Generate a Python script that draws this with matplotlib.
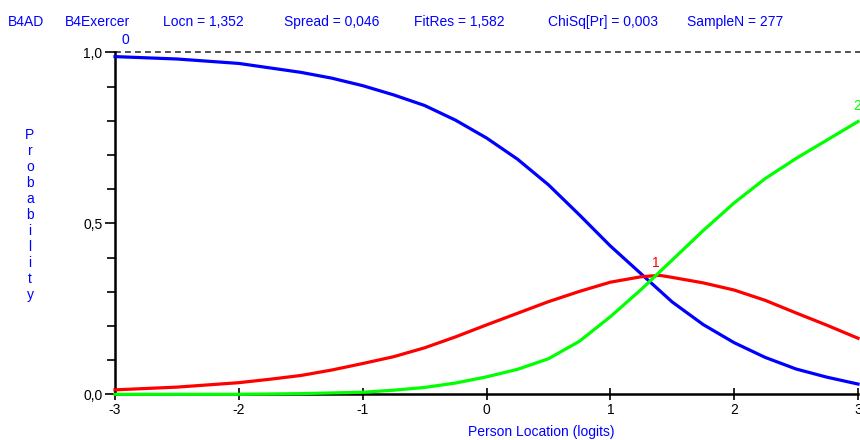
import matplotlib
matplotlib.use("Agg")
import matplotlib.pyplot as plt
from matplotlib.ticker import MultipleLocator

plt.rcParams['font.family'] = ['Liberation Sans', 'DejaVu Sans']

# ---- data ----
x_blue = [-3, -2.5, -2, -1.75, -1.5, -1.25, -1, -0.75, -0.5, -0.25, 0, 0.25, 0.5, 0.75,
          1.0, 1.25, 1.5, 1.75, 2.0, 2.25, 2.5, 2.75, 3.0]
p_cat0 = [0.988, 0.981, 0.968, 0.955, 0.942, 0.925, 0.903, 0.876, 0.845, 0.802, 0.750, 0.688,
          0.613, 0.525, 0.434, 0.352, 0.270, 0.204, 0.151, 0.108, 0.074, 0.050, 0.030]

x_red = [-3, -2.5, -2, -1.75, -1.5, -1.25, -1, -0.75, -0.5, -0.25, 0, 0.25, 0.5, 0.75,
         1.0, 1.25, 1.4, 1.5, 1.75, 2.0, 2.25, 2.5, 2.75, 3.0]
p_cat1 = [0.013, 0.021, 0.034, 0.044, 0.055, 0.071, 0.090, 0.110, 0.136, 0.168, 0.203, 0.237,
          0.271, 0.301, 0.328, 0.344, 0.348, 0.342, 0.326, 0.305, 0.275, 0.238, 0.202, 0.164]

x_green = [-3, -2, -1.5, -1, -0.75, -0.5, -0.25, 0, 0.25, 0.5, 0.75, 1.0, 1.25, 1.5, 1.75,
           2.0, 2.25, 2.5, 2.75, 3.0]
p_cat2 = [0.000, 0.000, 0.002, 0.006, 0.012, 0.020, 0.033, 0.051, 0.073, 0.104, 0.155, 0.227,
          0.307, 0.393, 0.479, 0.560, 0.631, 0.690, 0.744, 0.798]

curve_labels = ['0', '1', '2']
label_pos = [(-2.92, 1.016), (1.37, 0.364), (2.99, 0.823)]
colors = ['#0000FF', '#FF0000', '#00FF00']

header = [("B4AD", 8), ("B4Exercer", 65), ("Locn = 1,352", 163), ("Spread = 0,046", 284),
          ("FitRes = 1,582", 414), ("ChiSq[Pr] = 0,003", 548), ("SampleN = 277", 687)]

x_ticks = [-3, -2, -1, 0, 1, 2, 3]
y_ticks = [0.0, 0.5, 1.0]
y_tick_labels = ['0,0', '0,5', '1,0']

W, H = 860, 440
fig = plt.figure(figsize=(W / 100, H / 100), dpi=100)
ax_left, ax_right = 115, 858
ax_top, ax_bot = 52.5, 394.3
ax = fig.add_axes([ax_left / W, 1 - ax_bot / H, (ax_right - ax_left) / W, (ax_bot - ax_top) / H])

ax.set_xlim(-3, 3)
ax.set_ylim(0, 1)

ax.plot([-3, 3.2], [1, 1], color='#333333', lw=1.2, ls=(0, (3.5, 2.5)), clip_on=False, zorder=1)

for xs, ys, c in [(x_blue, p_cat0, colors[0]), (x_red, p_cat1, colors[1]), (x_green, p_cat2, colors[2])]:
    ax.plot(xs, ys, color=c, lw=2.3, clip_on=False, zorder=3, solid_joinstyle='round')

for lab, (lx, ly), c in zip(curve_labels, label_pos, colors):
    ax.text(lx, ly, lab, color=c, fontsize=10, ha='center', va='bottom', clip_on=False)

for s in ['top', 'right']:
    ax.spines[s].set_visible(False)
for s in ['left', 'bottom']:
    ax.spines[s].set_linewidth(1.8)
    ax.spines[s].set_color('black')
    ax.spines[s].set_zorder(2)

ax.set_xticks(x_ticks)
ax.set_xticklabels([str(t) for t in x_ticks])
ax.set_yticks(y_ticks)
ax.set_yticklabels(y_tick_labels)
ax.yaxis.set_minor_locator(MultipleLocator(0.1))
ax.tick_params(axis='x', direction='inout', length=9, width=1.2, labelsize=10, pad=2, colors='black')
ax.tick_params(axis='y', which='major', direction='out', length=7, width=1.2, labelsize=10, pad=2)
ax.tick_params(axis='y', which='minor', direction='out', length=6, width=1.2)

fig.text(541 / W, 1 - 432 / H, "Person Location (logits)", color='#0000FF', fontsize=10,
         ha='center', va='center')

fig.text(30 / W, 1 - 215 / H, "\n".join("Probability"), color='#0000FF', fontsize=10,
         ha='center', va='center', linespacing=1.18)

for txt, px in header:
    fig.text(px / W, 1 - 22 / H, txt, color='#0000FF', fontsize=10, ha='left', va='center')

fig.savefig("out.png", dpi=100)
